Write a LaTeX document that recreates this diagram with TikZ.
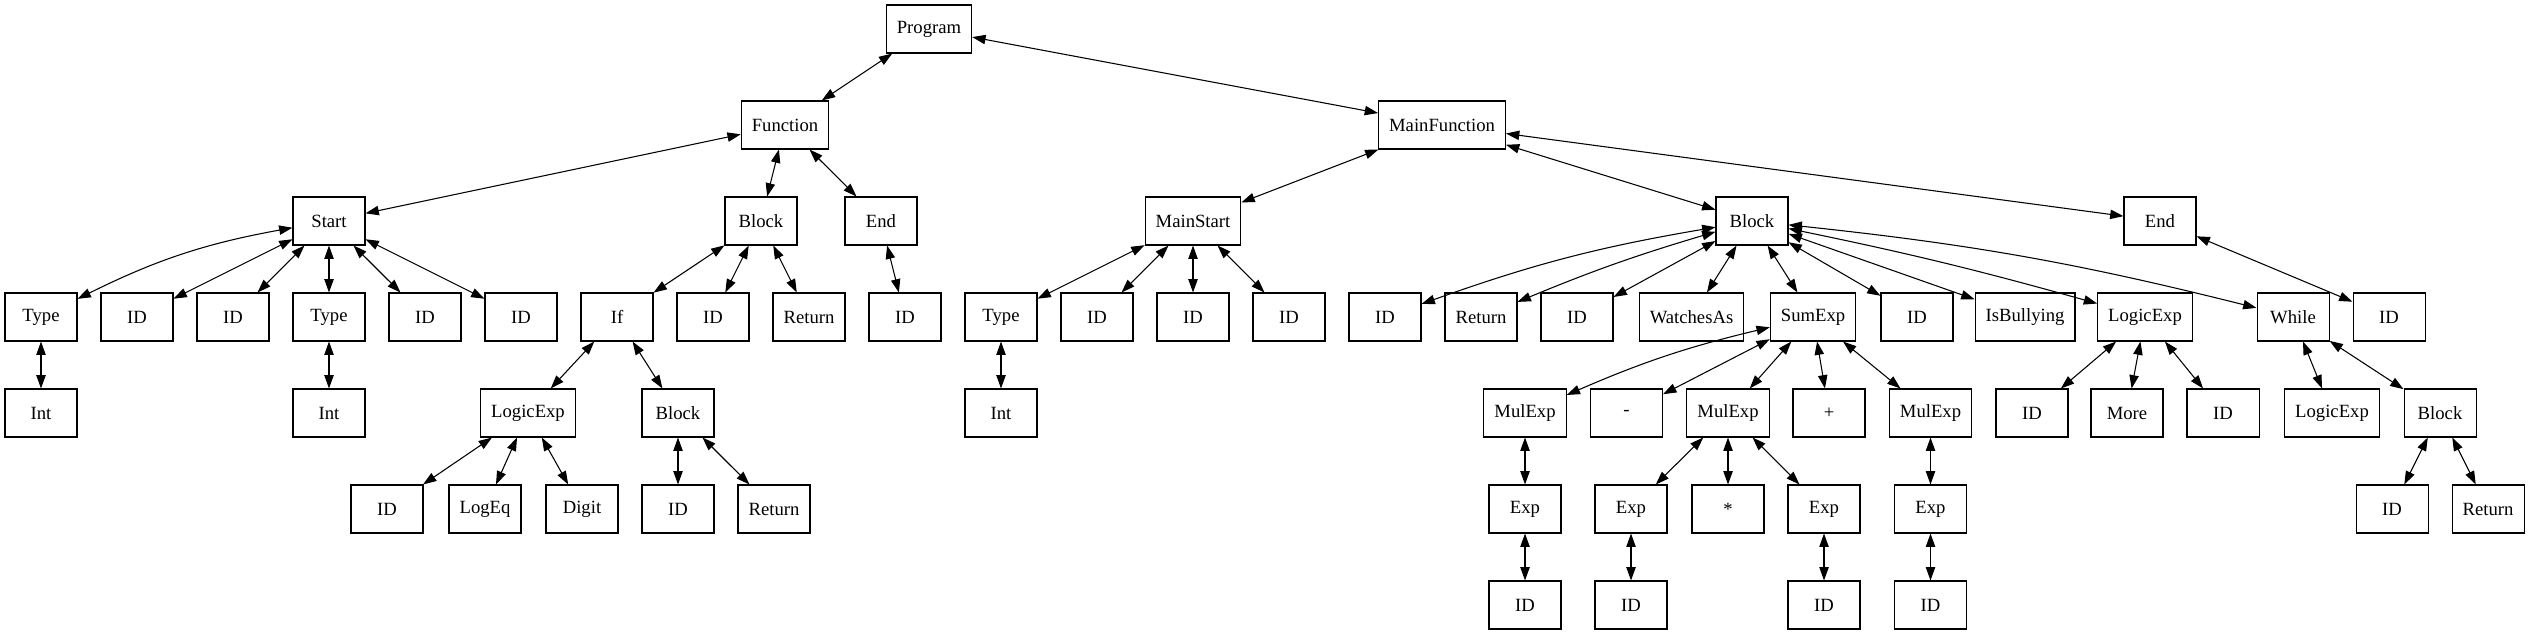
\documentclass[tikz,border=0pt]{standalone}
\usepackage{fontspec}
\setmainfont{Liberation Serif}
\usetikzlibrary{arrows.meta}
\begin{document}
\begin{tikzpicture}[x=0.75pt,y=-0.75pt,
  box/.style={draw, line width=0.8pt, rectangle, minimum width=54pt, minimum height=36pt,
    inner xsep=7.9pt, font=\fontsize{14}{16}\selectfont},
  edge/.style={line width=0.8pt, {Triangle[length=10pt,width=7pt]}-{Triangle[length=10pt,width=7pt]}}]
\useasboundingbox (0,0) rectangle (2529,635);
% row 0
\node[box] (prog) at (929,29) {Program};
% row 1
\node[box] (func) at (785,125) {Function};
\node[box] (mainf) at (1442,125) {MainFunction};
% row 2
\node[box] (start) at (329,221) {Start};
\node[box] (blk) at (761,221) {Block};
\node[box] (fend) at (881,221) {End};
\node[box] (mstart) at (1193,221) {MainStart};
\node[box] (mblk) at (1752,221) {Block};
\node[box] (mend) at (2160,221) {End};
% row 3
\node[box] (s1) at (41,317) {Type};
\node[box] (s2) at (137,317) {ID};
\node[box] (s3) at (233,317) {ID};
\node[box] (s4) at (329,317) {Type};
\node[box] (s5) at (425,317) {ID};
\node[box] (s6) at (521,317) {ID};
\node[box] (bif) at (617,317) {If};
\node[box] (bid) at (713,317) {ID};
\node[box] (bret) at (809,317) {Return};
\node[box] (eid) at (905,317) {ID};
\node[box] (ms1) at (1001,317) {Type};
\node[box] (ms2) at (1097,317) {ID};
\node[box] (ms3) at (1193,317) {ID};
\node[box] (ms4) at (1289,317) {ID};
\node[box] (mb1) at (1385,317) {ID};
\node[box] (mb2) at (1481,317) {Return};
\node[box] (mb3) at (1577,317) {ID};
\node[box] (mb4) at (1691.5,317) {WatchesAs};
\node[box] (mb5) at (1813,317) {SumExp};
\node[box] (mb6) at (1917,317) {ID};
\node[box] (mb7) at (2025,317) {IsBullying};
\node[box] (mb8) at (2145,317) {LogicExp};
\node[box] (mb9) at (2293,317) {While};
\node[box] (meid) at (2389,317) {ID};
% row 4
\node[box] (t1int) at (41,413) {Int};
\node[box] (t4int) at (329,413) {Int};
\node[box] (iflog) at (528,413) {LogicExp};
\node[box] (ifblk) at (678,413) {Block};
\node[box] (ms1int) at (1001,413) {Int};
\node[box] (se1) at (1525,413) {MulExp};
\node[box] (se2) at (1626.5,413) {-};
\node[box] (se3) at (1728,413) {MulExp};
\node[box] (se4) at (1829,413) {+};
\node[box] (se5) at (1930.5,413) {MulExp};
\node[box] (lg1) at (2032,413) {ID};
\node[box] (lg2) at (2127,413) {More};
\node[box] (lg3) at (2223,413) {ID};
\node[box] (wl1) at (2332,413) {LogicExp};
\node[box] (wl2) at (2440,413) {Block};
% row 5
\node[box] (l1) at (387,509) {ID};
\node[box] (l2) at (485,509) {LogEq};
\node[box] (l3) at (582,509) {Digit};
\node[box] (ib1) at (678,509) {ID};
\node[box] (ib2) at (774,509) {Return};
\node[box] (e1) at (1525,509) {Exp};
\node[box] (e2) at (1631,509) {Exp};
\node[box] (st) at (1728,509) {*};
\node[box] (e3) at (1824,509) {Exp};
\node[box] (e4) at (1930.5,509) {Exp};
\node[box] (w1) at (2392,509) {ID};
\node[box] (w2) at (2488,509) {Return};
% row 6
\node[box] (e1id) at (1525,605) {ID};
\node[box] (e2id) at (1631,605) {ID};
\node[box] (e3id) at (1824,605) {ID};
\node[box] (e4id) at (1930.5,605) {ID};
% edges
\draw[edge] (prog) -- (func);
\draw[edge] (prog) -- (mainf);
\draw[edge] (func) -- (start);
\draw[edge] (func) -- (blk);
\draw[edge] (func) -- (fend);
\draw[edge] (start) to[bend right=8] (s1);
\draw[edge] (start) -- (s2);
\draw[edge] (start) -- (s3);
\draw[edge] (start) -- (s4);
\draw[edge] (start) -- (s5);
\draw[edge] (start) -- (s6);
\draw[edge] (s1) -- (t1int);
\draw[edge] (s4) -- (t4int);
\draw[edge] (blk) -- (bif);
\draw[edge] (blk) -- (bid);
\draw[edge] (blk) -- (bret);
\draw[edge] (bif) -- (iflog);
\draw[edge] (bif) -- (ifblk);
\draw[edge] (iflog) -- (l1);
\draw[edge] (iflog) -- (l2);
\draw[edge] (iflog) -- (l3);
\draw[edge] (ifblk) -- (ib1);
\draw[edge] (ifblk) -- (ib2);
\draw[edge] (fend) -- (eid);
\draw[edge] (mainf) -- (mstart);
\draw[edge] (mainf) -- (mblk);
\draw[edge] (mainf) -- (mend);
\draw[edge] (mstart) -- (ms1);
\draw[edge] (mstart) -- (ms2);
\draw[edge] (mstart) -- (ms3);
\draw[edge] (mstart) -- (ms4);
\draw[edge] (ms1) -- (ms1int);
\draw[edge] (mblk) to[bend right=5] (mb1);
\draw[edge] (mblk) to[bend right=3] (mb2);
\draw[edge] (mblk) -- (mb3);
\draw[edge] (mblk) -- (mb4);
\draw[edge] (mblk) -- (mb5);
\draw[edge] (mblk) -- (mb6);
\draw[edge] (mblk) -- (mb7);
\draw[edge] (mblk) to[bend left=2] (mb8);
\draw[edge] (mblk) to[bend left=4] (mb9);
\draw[edge] (mb5) to[bend right=5] (se1);
\draw[edge] (mb5) -- (se2);
\draw[edge] (mb5) -- (se3);
\draw[edge] (mb5) -- (se4);
\draw[edge] (mb5) -- (se5);
\draw[edge] (se1) -- (e1);
\draw[edge] (e1) -- (e1id);
\draw[edge] (se3) -- (e2);
\draw[edge] (se3) -- (st);
\draw[edge] (se3) -- (e3);
\draw[edge] (e2) -- (e2id);
\draw[edge] (e3) -- (e3id);
\draw[edge] (se5) -- (e4);
\draw[edge] (e4) -- (e4id);
\draw[edge] (mb8) -- (lg1);
\draw[edge] (mb8) -- (lg2);
\draw[edge] (mb8) -- (lg3);
\draw[edge] (mb9) -- (wl1);
\draw[edge] (mb9) -- (wl2);
\draw[edge] (wl2) -- (w1);
\draw[edge] (wl2) -- (w2);
\draw[edge] (mend) -- (meid);
\end{tikzpicture}
\end{document}
